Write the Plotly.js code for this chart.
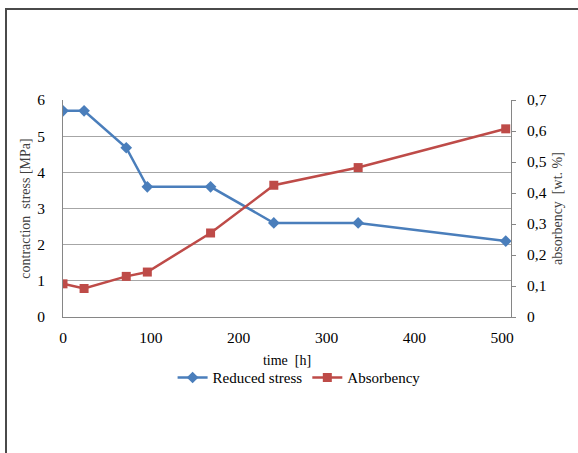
<!DOCTYPE html>
<html>
<head>
<meta charset="utf-8">
<script src="https://cdn.plot.ly/plotly-3.0.1.min.js"></script>
<style>
html,body{margin:0;padding:0;background:#fff;}
#wrap{position:relative;width:578px;height:453px;overflow:hidden;}
#chart{width:578px;height:453px;}
#frame{position:absolute;left:5px;top:8px;width:600px;height:500px;border-left:2px solid #4a4a4a;border-top:2px solid #4a4a4a;pointer-events:none;}
</style>
</head>
<body>
<div id="wrap"><div id="chart"></div><div id="frame"></div></div>
<script>
const timeH = [0, 24, 72, 96, 168, 240, 336, 504];
const reducedStress = [5.7, 5.7, 4.68, 3.6, 3.6, 2.6, 2.6, 2.1];
const absorbency = [0.107, 0.092, 0.131, 0.145, 0.271, 0.425, 0.482, 0.607];
const seriesNames = ['Reduced stress', 'Absorbency'];
const xTicks = [0, 100, 200, 300, 400, 500];
const yLeftTicks = [0, 1, 2, 3, 4, 5, 6];
const yRightTicks = [0, 0.1, 0.2, 0.3, 0.4, 0.5, 0.6, 0.7];

const font = 'Liberation Serif, Times New Roman, serif';
const traces = [
  {x: timeH, y: reducedStress, name: seriesNames[0], type: 'scatter', mode: 'lines+markers',
   line: {color: '#4A7EBB', width: 2.5}, marker: {symbol: 'diamond', size: 9, color: '#4A7EBB'}},
  {x: timeH, y: absorbency, name: seriesNames[1], type: 'scatter', mode: 'lines+markers', yaxis: 'y2',
   line: {color: '#BE4B48', width: 2.5}, marker: {symbol: 'square', size: 9, color: '#BE4B48'}}
];
const layout = {
  width: 578, height: 453,
  margin: {l: 63, r: 67, t: 100, b: 136},
  paper_bgcolor: '#fff', plot_bgcolor: '#fff',
  separators: ', ',
  font: {family: font, color: '#000', size: 15},
  showlegend: true,
  legend: {orientation: 'h', x: 0.527, xanchor: 'center', y: -0.28, yanchor: 'middle',
           font: {family: font, size: 15, color: '#000'}, itemwidth: 30, tracegroupgap: 0},
  xaxis: {range: [0, 510], tickvals: xTicks, showgrid: false, zeroline: false,
          showline: true, linecolor: '#868686', linewidth: 1, ticks: '',
          ticklabelstandoff: 6, tickfont: {family: font, size: 15.5},
          title: {text: 'time  [h]', font: {family: font, size: 14}, standoff: 10}},
  yaxis: {range: [0, 6], tickvals: yLeftTicks, showgrid: true, gridcolor: '#A6A6A6', gridwidth: 1,
          zeroline: false, showline: true, linecolor: '#868686', ticks: '',
          ticklabelstandoff: 14, tickfont: {family: font, size: 15.5},
          title: {text: 'contraction  stress [MPa]', font: {family: font, size: 14, color: '#404040'}, standoff: 3}},
  yaxis2: {range: [0, 0.7], tickvals: yRightTicks, overlaying: 'y', side: 'right', showgrid: false,
           zeroline: false, showline: true, linecolor: '#868686', ticks: 'outside', ticklen: 4,
           tickcolor: '#868686', ticklabelstandoff: 8, tickfont: {family: font, size: 15.5},
           title: {text: 'absorbency  [wt. %]', font: {family: font, size: 14, color: '#404040'}, standoff: 6}}
};
Plotly.newPlot('chart', traces, layout, {displayModeBar: false, staticPlot: true});
</script>
</body>
</html>
